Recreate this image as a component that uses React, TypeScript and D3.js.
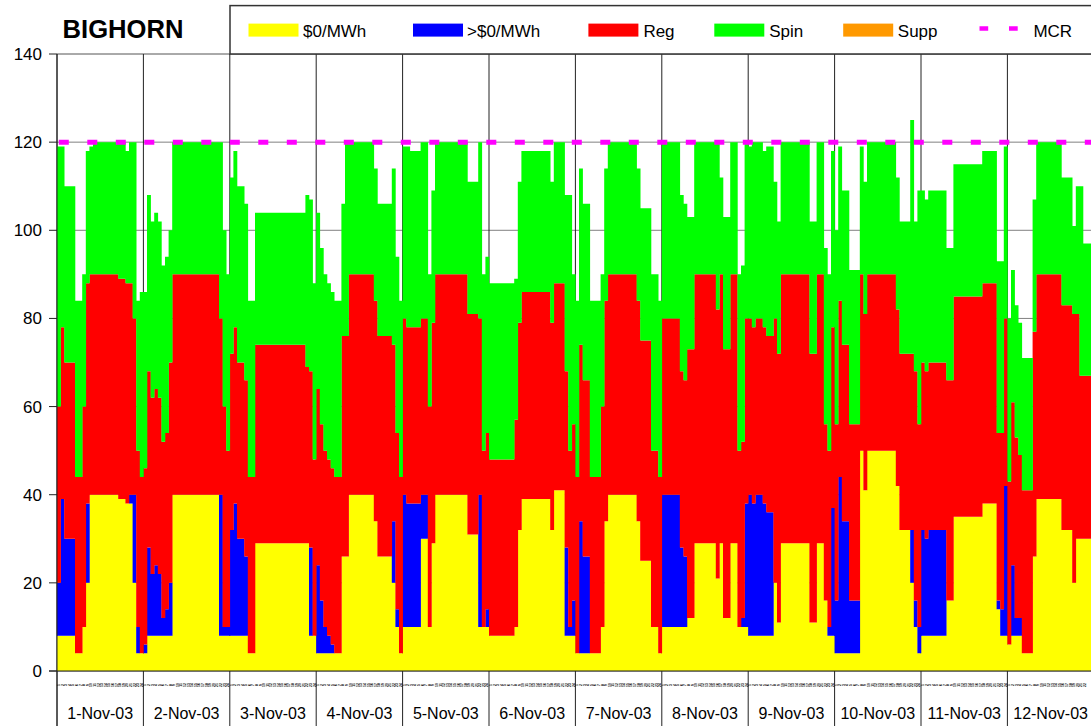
import React from "react";
import * as d3 from "d3";

const dayLabels = ["1-Nov-03","2-Nov-03","3-Nov-03","4-Nov-03","5-Nov-03","6-Nov-03","7-Nov-03","8-Nov-03","9-Nov-03","10-Nov-03","11-Nov-03","12-Nov-03"];
const yTicks = [0, 20, 40, 60, 80, 100, 120, 140];
const mcrValue = 120;

// $0/MWh (yellow), one row per day, 24 hourly values
const zeroPriced = [
  [8,8,8,8,8,4,4,10,20,40,40,40,40,40,40,40,40,39,39,38,38,20,4,4],
  [4,8,8,8,8,8,8,8,40,40,40,40,40,40,40,40,40,40,40,40,40,8,8,8],
  [8,8,8,8,8,4,4,29,29,29,29,29,29,29,29,29,29,29,29,29,29,29,8,8],
  [4,4,4,4,4,4,4,26,26,40,40,40,40,40,40,40,34,26,26,26,26,20,10,4],
  [10,10,10,10,10,30,30,10,29,40,40,40,40,40,40,40,40,40,31,31,31,10,10,10],
  [8,8,8,8,8,8,8,10,32,39,39,39,39,39,39,39,39,32,41,41,41,8,8,8],
  [4,4,4,4,4,4,4,10,34,40,40,40,40,40,40,40,40,34,25,25,25,10,10,4],
  [10,10,10,10,10,10,10,12,12,29,29,29,29,29,29,21,29,12,12,29,29,10,10,10],
  [8,8,8,8,8,8,8,20,11,29,29,29,29,29,29,29,29,11,11,29,29,16,8,8],
  [4,4,4,4,4,4,4,50,41,50,50,50,50,50,50,50,50,42,32,32,32,20,10,4],
  [8,8,8,8,8,8,8,16,16,35,35,35,35,35,35,35,35,38,38,38,38,14,8,8],
  [6,8,8,8,4,4,4,26,39,39,39,39,39,39,39,32,32,32,20,30,30,30,30,30],
];

// >$0/MWh (blue)
const abovePriced = [
  [12,31,22,22,22,0,0,0,18,0,0,0,0,0,0,0,0,0,0,0,2,20,6,0],
  [2,20,14,16,14,4,6,12,0,0,0,0,0,0,0,0,0,0,0,0,0,32,2,2],
  [24,30,22,22,18,0,0,0,0,0,0,0,0,0,0,0,0,0,0,0,0,0,20,0],
  [20,12,6,4,2,0,0,0,0,0,0,0,0,0,0,0,0,0,0,0,0,14,4,0],
  [30,28,28,28,28,10,10,0,0,0,0,0,0,0,0,0,0,0,0,0,0,30,0,4],
  [0,0,0,0,0,0,0,0,0,0,0,0,0,0,0,0,0,0,0,0,0,20,2,8],
  [0,30,22,22,0,0,0,0,0,0,0,0,0,0,0,0,0,0,0,0,0,0,0,0],
  [30,30,30,30,30,18,16,0,0,0,0,0,0,0,0,0,0,0,0,0,0,0,2,28],
  [32,30,32,32,30,28,28,0,0,0,0,0,0,0,0,0,0,0,0,0,0,0,2,29],
  [12,40,30,30,12,12,12,0,0,0,0,0,0,0,0,0,0,0,0,0,0,12,6,6],
  [24,22,24,24,24,24,24,0,0,0,0,0,0,0,0,0,0,0,0,0,0,2,6,34],
  [0,16,4,4,0,0,0,0,0,0,0,0,0,0,0,0,0,0,0,0,0,0,0,0],
];

// Reg (red)
const regulation = [
  [40,39,40,40,40,40,40,50,50,50,50,50,50,50,50,50,50,50,50,50,48,40,40,40],
  [40,40,40,40,40,40,40,50,50,50,50,50,50,50,50,50,50,50,50,50,50,40,50,40],
  [40,40,40,40,40,40,40,45,45,45,45,45,45,45,45,45,45,45,45,45,45,40,40,40],
  [40,40,40,40,40,40,40,50,50,50,50,50,50,50,50,50,50,50,50,50,50,40,40,40],
  [40,40,40,40,40,40,40,50,50,50,50,50,50,50,50,50,50,50,50,50,50,40,40,40],
  [40,40,40,40,40,40,40,47,47,47,47,47,47,47,47,47,47,47,47,47,47,40,40,40],
  [40,40,40,40,40,40,40,50,50,50,50,50,50,50,50,50,50,50,50,50,50,40,40,40],
  [40,40,40,40,40,40,40,61,61,61,61,61,61,61,61,61,61,61,61,61,61,40,40,42],
  [40,40,40,40,40,40,40,60,61,61,61,61,61,61,61,61,61,61,61,61,61,40,40,41],
  [40,40,40,40,40,40,40,40,40,40,40,40,40,40,40,40,40,40,40,40,40,40,52,46],
  [38,38,38,38,38,38,38,50,50,50,50,50,50,50,50,50,50,50,50,50,50,38,40,38],
  [37,37,41,37,37,37,37,51,51,51,51,51,51,51,51,51,51,51,61,51,37,37,37,37],
];

// Spin (green)
const spinning = [
  [59,41,40,40,40,40,40,30,30,29,30,30,30,30,30,30,30,31,31,30,32,40,34,42],
  [40,40,40,40,40,40,40,30,30,30,30,30,30,30,30,30,30,30,30,30,30,40,40,40],
  [40,40,40,40,40,40,40,30,30,30,30,30,30,30,30,30,30,30,30,30,30,39,39,40],
  [40,40,40,40,40,40,40,30,44,30,30,30,30,30,30,30,30,30,30,30,30,40,40,40],
  [39,41,40,40,40,40,40,30,30,30,30,30,30,30,30,30,30,30,30,30,30,40,40,40],
  [40,40,40,40,40,40,40,32,32,32,32,32,32,32,32,32,32,32,32,32,32,40,58,34],
  [40,40,40,40,40,40,40,30,30,30,30,30,30,30,30,30,30,30,30,30,30,40,40,40],
  [40,40,40,40,40,40,40,30,30,30,30,30,30,30,30,38,22,30,30,30,30,40,40,40],
  [39,42,40,40,40,43,43,31,30,30,30,30,30,30,30,30,30,30,30,30,30,40,40,40],
  [44,35,35,35,35,35,35,29,30,30,30,30,30,30,30,30,30,30,30,30,30,53,34,53],
  [39,39,39,39,39,39,39,30,30,30,30,30,30,30,30,30,30,30,30,30,30,39,39,39],
  [37,30,30,30,30,30,30,30,30,30,30,30,30,30,30,29,29,29,20,29,43,30,30,30],
];

// Supp (orange): none awarded in the period
const supplemental = dayLabels.map(() => [0,0,0,0,0,0,0,0,0,0,0,0,0,0,0,0,0,0,0,0,0,0,0,0]);

const FONT = "'Liberation Sans', Arial, Helvetica, sans-serif";

const series = [
  { key: "zero", label: "$0/MWh", color: "#FFFF00", data: zeroPriced },
  { key: "above", label: ">$0/MWh", color: "#0000FF", data: abovePriced },
  { key: "reg", label: "Reg", color: "#FF0000", data: regulation },
  { key: "spin", label: "Spin", color: "#00FF00", data: spinning },
  { key: "supp", label: "Supp", color: "#FF9900", data: supplemental },
];

export default function App() {
  const W = 1091, H = 726;
  const left = 57, dayW = 86.4;
  const nDays = dayLabels.length;
  const n = nDays * 24;
  const top = 54, bottom = 671;

  const x = d3.scaleBand<number>().domain(d3.range(n)).range([left, left + nDays * dayW]).padding(0);
  const y = d3.scaleLinear().domain([0, 140]).range([bottom, top]);
  const xDay = d3.scaleBand<string>().domain(dayLabels).range([left, left + nDays * dayW]).padding(0);

  const rows = d3.range(n).map((i) => {
    const d = Math.floor(i / 24), h = i % 24;
    const r: any = { i };
    series.forEach((s) => (r[s.key] = s.data[d][h]));
    return r;
  });
  const stacked = d3.stack<any>().keys(series.map((s) => s.key))(rows);
  const bw = x.bandwidth();

  // each layer as one path of bar rectangles (avoids hairline seams between touching bars)
  const layerPath = (layer: any[]) => {
    const p = d3.path();
    layer.forEach((d, i) => {
      if (d[1] - d[0] <= 0) return;
      const x0 = x(i) as number;
      p.rect(x0, y(d[1]), bw + 0.3, y(d[0]) - y(d[1]));
    });
    return p.toString();
  };

  const mcrLine = d3.line<number>().x((i) => (x(i) as number) + bw / 2).y(() => y(mcrValue));

  const legendItems = [
    { s: series[0], sx: 248.5, tx: 303 },
    { s: series[1], sx: 413, tx: 467 },
    { s: series[2], sx: 588.4, tx: 643.4 },
    { s: series[3], sx: 714.3, tx: 769.2 },
    { s: series[4], sx: 843.2, tx: 897.8 },
  ];

  return (
    <svg width={W} height={H} style={{ position: "absolute", left: 0, top: 0, background: "#fff" }} fontFamily={FONT}>
      <rect x={0} y={0} width={W} height={H} fill="#fff" />
      {/* horizontal gridlines */}
      {yTicks.map((t) => (
        <line key={"g" + t} x1={left} x2={W} y1={y(t)} y2={y(t)} stroke={t === 140 ? "#555" : "#808080"} strokeWidth={1} />
      ))}
      {/* vertical day separators */}
      {d3.range(nDays + 1).map((k) => {
        const xx = k < nDays ? (xDay(dayLabels[k]) as number) : left + nDays * dayW;
        return <line key={"v" + k} x1={xx} x2={xx} y1={top} y2={H} stroke="#222" strokeWidth={1} />;
      })}
      {/* stacked bars */}
      {stacked.map((layer, li) => (
        <path key={layer.key} d={layerPath(layer as any)} fill={series[li].color} />
      ))}
      {/* MCR line */}
      <path d={mcrLine(d3.range(n)) || ""} fill="none" stroke="#FF00FF" strokeWidth={5} strokeDasharray="10 18.5" />
      {/* axes */}
      <line x1={left} x2={left} y1={top} y2={H} stroke="#222" strokeWidth={1} />
      <line x1={49} x2={W} y1={bottom} y2={bottom} stroke="#222" strokeWidth={1} />
      {yTicks.map((t) => (
        <g key={"t" + t}>
          <line x1={49} x2={left} y1={y(t)} y2={y(t)} stroke="#222" />
          <text x={42} y={y(t) + 6} fontSize={17} textAnchor="end" fill="#000">{t}</text>
        </g>
      ))}
      {/* hour labels: tiny, rotated, as dense as in the original */}
      <g fontSize={3.5} fontWeight="bold" fill="#000" textAnchor="middle">
        {d3.range(n)
          .filter((i) => (x(i) as number) + bw / 2 < W - 3)
          .map((i) => {
            const cx = (x(i) as number) + bw / 2;
            return (
              <text key={"h" + i} x={cx} y={685} dy="0.35em" transform={`rotate(-90 ${cx} 685)`}>{(i % 24) + 1}</text>
            );
          })}
      </g>
      {/* day labels */}
      {dayLabels.map((d) => (
        <text key={d} x={(xDay(d) as number) + xDay.bandwidth() / 2} y={719} fontSize={16} textAnchor="middle" fill="#000">{d}</text>
      ))}
      {/* title */}
      <text x={62.6} y={38.2} fontSize={25.6} fontWeight="bold" fill="#000">BIGHORN</text>
      {/* legend */}
      <rect x={230} y={5.6} width={900} height={48.4} fill="#fff" stroke="#333" strokeWidth={1.5} />
      {legendItems.map(({ s, sx, tx }) => (
        <g key={s.key}>
          <rect x={sx} y={23.6} width={50} height={13} fill={s.color} />
          <text x={tx} y={36.5} fontSize={17} fill="#000">{s.label}</text>
        </g>
      ))}
      <line x1={979.5} x2={1017.7} y1={28.5} y2={28.5} stroke="#FF00FF" strokeWidth={4.5} strokeDasharray="8.7 20.8" />
      <text x={1033.4} y={36.5} fontSize={17} fill="#000">MCR</text>
    </svg>
  );
}
